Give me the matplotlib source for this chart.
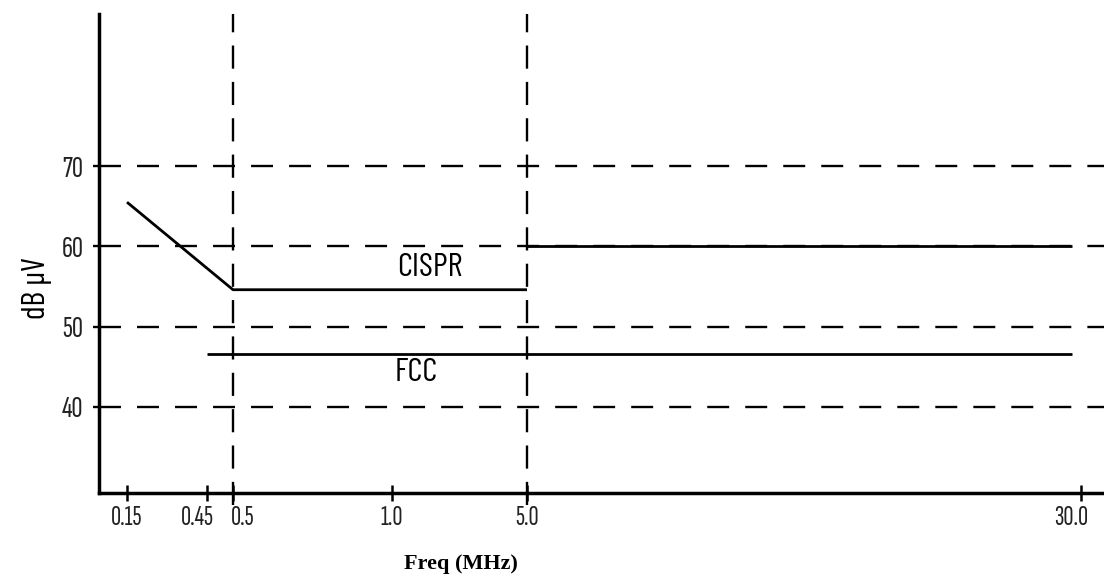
import numpy as np
import matplotlib
matplotlib.use("Agg")
import matplotlib.pyplot as plt
from matplotlib.ticker import NullLocator
from matplotlib.transforms import ScaledTranslation

# ---- data ----
tick_freqs = [0.15, 0.45, 0.5, 1.0, 5.0, 30.0]
tick_labels = ["0.15", "0.45", "0.5", "1.0", "5.0", "30.0"]
ytick_vals = [40, 50, 60, 70]
ytick_labels = ["40", "50", "60", "70"]

cispr_low_freq = [0.15, 0.5, 5.0]
cispr_low_db = [65.5, 54.6, 54.6]
cispr_high_freq = [5.0, 29.6]
cispr_high_db = [60.0, 60.0]
fcc_freq = [0.45, 29.6]
fcc_db = [46.6, 46.6]
vline_freqs = [0.5, 5.0]

# ---- schematic (non-uniform) frequency scale: anchor freq -> axis units ----
anchor_f = [0.04, 0.15, 0.45, 0.5, 1.0, 5.0, 30.0, 31.04]
anchor_u = [0, 28, 108, 134, 293, 428, 982, 1005]

def fwd(x):
    return np.interp(x, anchor_f, anchor_u)

def inv(u):
    return np.interp(u, anchor_u, anchor_f)

tick_font = ["Sofia Sans Extra Condensed", "DejaVu Sans"]
label_font = ["Barlow Condensed", "DejaVu Sans"]

fig = plt.figure(figsize=(11.04, 5.84), dpi=100)
ax = fig.add_axes([99 / 1104, (584 - 493) / 584, 1 - 99 / 1104, (493 - 14) / 584])
ax.set_xscale("function", functions=(fwd, inv))
ax.set_xlim(anchor_f[0], anchor_f[-1])
ax.set_ylim(29.29, 88.93)

for v in ytick_vals:
    ax.axhline(v, color="black", lw=1.7, linestyle=(0, (9.3, 6.8)), zorder=1)
for f in vline_freqs:
    ax.axvline(f, ymin=-0.025, ymax=1, color="black", lw=1.7,
               linestyle=(0, (9.8, 5.6)), clip_on=False, zorder=1)

for fx, dy in [(cispr_low_freq, cispr_low_db), (cispr_high_freq, cispr_high_db), (fcc_freq, fcc_db)]:
    ax.plot(fx, dy, color="black", lw=2.0, solid_capstyle="butt", zorder=3)

ax.text(2.13, 57.3, "CISPR", fontsize=24, family=label_font, ha="center", va="center")
ax.text(1.71, 44.2, "FCC", fontsize=24, family=label_font, ha="center", va="center")

for s in ["top", "right"]:
    ax.spines[s].set_visible(False)
for s in ["left", "bottom"]:
    ax.spines[s].set_linewidth(2.5)

ax.set_xticks(tick_freqs)
ax.set_xticklabels(tick_labels)
ax.xaxis.set_minor_locator(NullLocator())
ax.set_yticks(ytick_vals)
ax.set_yticklabels(ytick_labels)
ax.tick_params(axis="x", direction="inout", length=12, width=1.8, pad=3.5, labelsize=20)
ax.tick_params(axis="y", direction="out", length=4.5, width=1.7, pad=6.5, labelsize=22)
for lab in ax.get_xticklabels() + ax.get_yticklabels():
    lab.set_family(tick_font)
    lab.set_color("#222222")

# nudge the crowded labels apart, as in the reference
xl = ax.get_xticklabels()
shifts = {1: -10, 2: 10, 5: -10}
for i, dx in shifts.items():
    xl[i].set_transform(xl[i].get_transform() + ScaledTranslation(dx / 100, 0, fig.dpi_scale_trans))

ax.set_ylabel("dB µV", fontsize=23, family=label_font, va="center", ha="center")
ax.yaxis.set_label_coords((37 - 99) / 1005, (493 - 288) / 479)
ax.set_xlabel("Freq (MHz)", fontsize=16, family=["Liberation Serif", "DejaVu Serif"],
              fontweight="bold", va="top", ha="center")
ax.xaxis.set_label_coords((461 - 99) / 1005, (493 - 554) / 479)

fig.savefig("out.png", dpi=100)
